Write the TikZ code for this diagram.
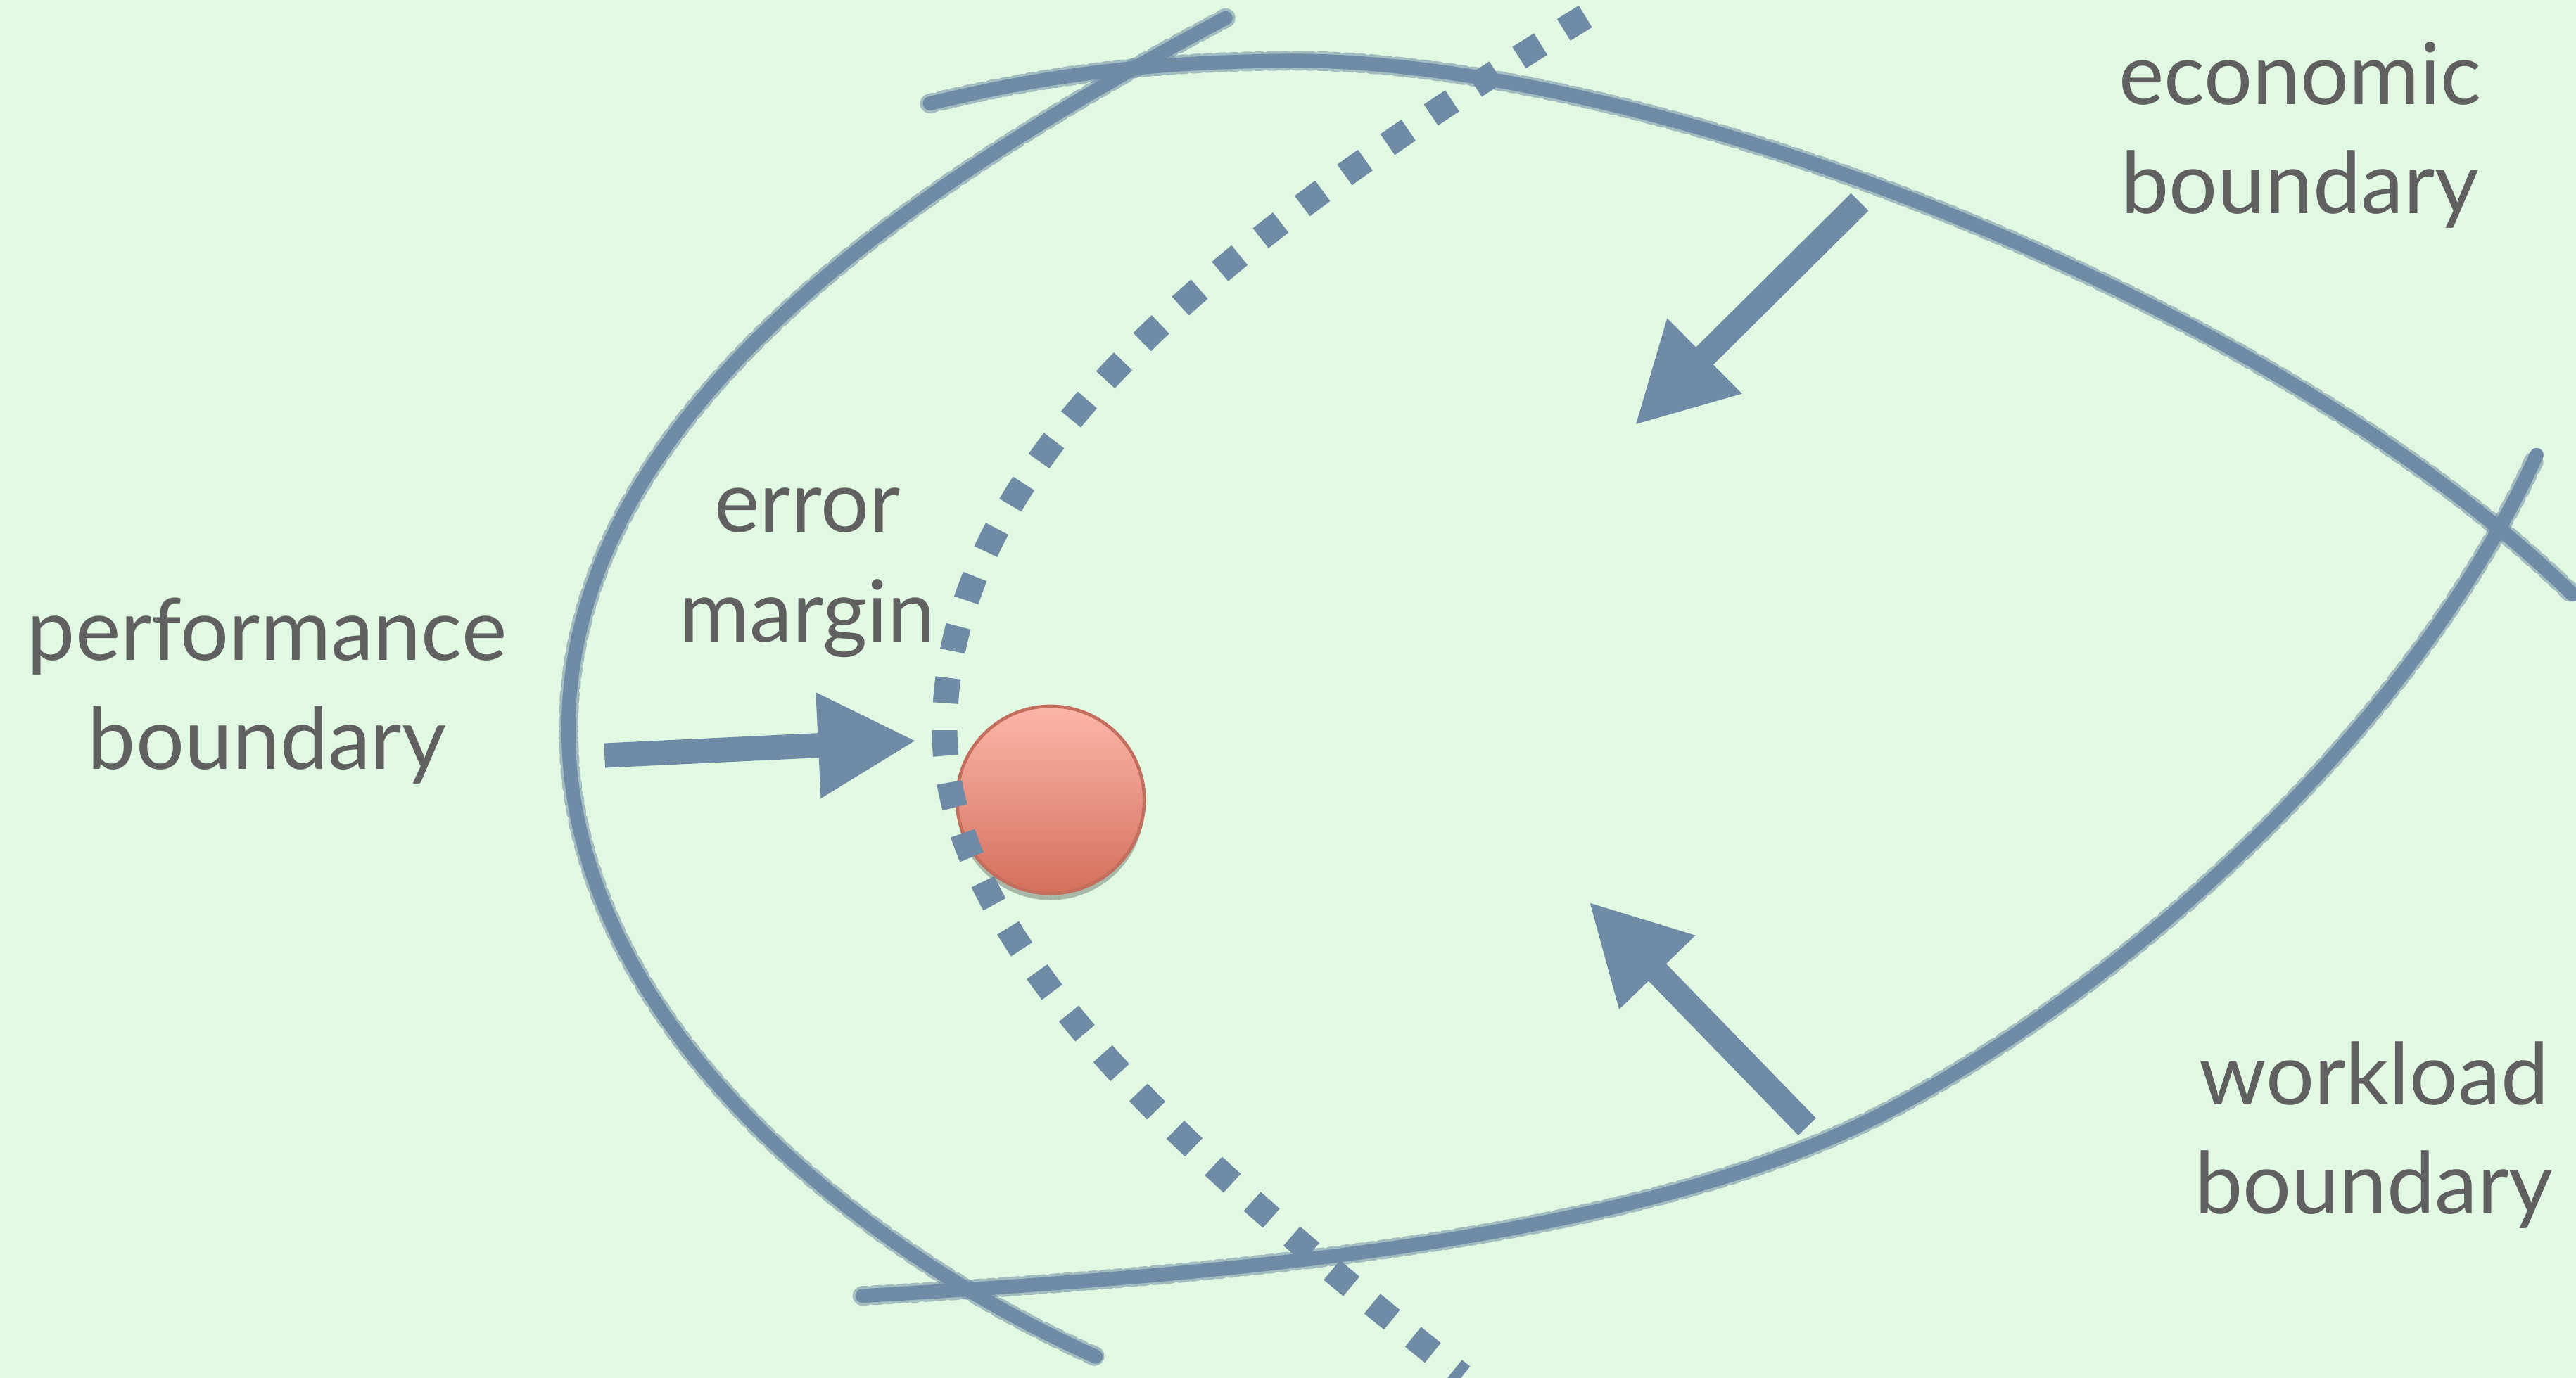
\documentclass[tikz,border=0pt]{standalone}
\usepackage{fontspec}
\setmainfont{Lato}
\usetikzlibrary{arrows.meta,shadows}

\definecolor{bgcol}{HTML}{E1F8E2}
\definecolor{slate}{HTML}{6F8BA5}
\definecolor{ink}{HTML}{606060}
\definecolor{balltop}{HTML}{FCB6AA}
\definecolor{ballbot}{HTML}{D4705C}
\definecolor{ballrim}{HTML}{C46E5D}

\begin{document}
\begin{tikzpicture}[
  x=0.2mm, y=-0.2mm,
  chalk/.style={draw=slate, line width=1.7mm, line cap=round, line join=round,
    postaction={draw=slate, line width=2.4mm, opacity=0.55, dash pattern=on 0.4mm off 1.1mm on 0.7mm off 0.9mm}},
  margin/.style={draw=slate, line width=3.1mm, dash pattern=on 3.1mm off 3.3mm},
  push/.style={draw=slate, line width=3mm, -{Triangle[length=12mm,width=12mm]}},
  lbl/.style={text=ink, align=center, anchor=base, font=\fontsize{29.7}{37.8}\selectfont},
  ball/.style={circle, minimum size=22.8mm, inner sep=0pt, draw=ballrim, line width=0.4mm,
    top color=balltop, bottom color=ballbot,
    drop shadow={shadow xshift=0mm, shadow yshift=-0.8mm, opacity=0.25, fill=black}}
]
\useasboundingbox (0,0) rectangle (1568,839);
\fill[bgcol] (0,0) rectangle (1568,839);

% boundaries
\draw[chalk] (746,11) .. controls (560,110) and (346,250) .. (346,444)
  .. controls (346,620) and (520,760) .. (667,826);
\draw[chalk] (566,63) .. controls (640,45) and (700,38) .. (780,37)
  .. controls (1000,34) and (1380,180) .. (1566,362);
\draw[chalk] (525,789) .. controls (750,776) and (1000,755) .. (1150,676)
  .. controls (1300,597) and (1470,440) .. (1544,277);

% operating point and error margin
\node[ball] (pt) at (639.5,487) {};
\draw[margin] (965,10) .. controls (720,160) and (575,290) .. (575,445)
  .. controls (575,580) and (740,718) .. (890,838);

% arrows
\coordinate (perfFrom) at (368,460);
\coordinate (perfTo) at (558,451);
\coordinate (econFrom) at (1132,123);
\coordinate (econTo) at (995,259);
\coordinate (workFrom) at (1100,686);
\coordinate (workTo) at (967,549);
\draw[push] (perfFrom) -- (perfTo);
\draw[push] (econFrom) -- (econTo);
\draw[push] (workFrom) -- (workTo);

% labels
\node[lbl] (econ) at (1400,130) {economic\\boundary};
\node[lbl] (perf) at (162.5,468.5) {performance\\boundary};
\node[lbl] (err) at (491.5,390.6) {error\\margin};
\node[lbl] (work) at (1445,739) {workload\\boundary};
\end{tikzpicture}
\end{document}
